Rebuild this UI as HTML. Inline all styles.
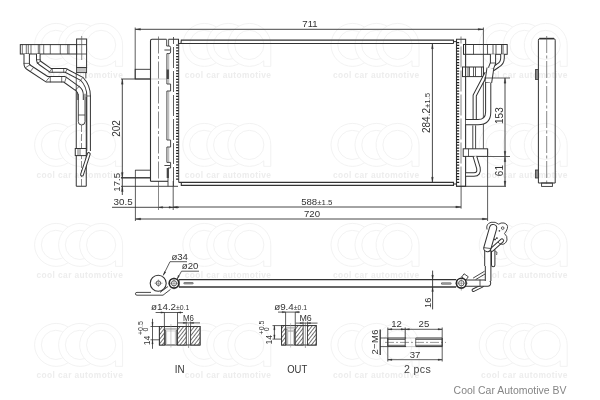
<!DOCTYPE html>
<html><head><meta charset="utf-8"><title>Condenser drawing</title>
<style>
html,body{margin:0;padding:0;background:#fff;}
svg{display:block;font-family:"Liberation Sans",sans-serif;opacity:0.999;will-change:transform;}
</style></head><body>
<svg width="600" height="400" viewBox="0 0 600 400">
<rect width="600" height="400" fill="#fff"/>
<g transform="translate(34.6,23.4)" fill="#fff" stroke="#f0f0f0" stroke-width="0.9">
<circle cx="21.5" cy="21.5" r="21.5"/>
<path d="M31.5,11.0 A14.6,14.6 0 1 0 31.5,32.0" fill="none"/>
<circle cx="45.5" cy="21.5" r="21.5"/>
<path d="M55.5,11.0 A14.6,14.6 0 1 0 55.5,32.0" fill="none"/>
<path d="M66.5,0 A21.5,21.5 0 1 0 81,37.4 V43 H88 V21.5 A21.5,21.5 0 0 0 66.5,0 Z"/>
<circle cx="66.5" cy="21.5" r="14.6"/>
</g>
<text x="123.19999999999999" y="77.8" font-size="8.4" font-weight="bold" text-anchor="end" fill="#ededed" letter-spacing="0.4">cool car automotive</text>
<g transform="translate(182.8,23.4)" fill="#fff" stroke="#f0f0f0" stroke-width="0.9">
<circle cx="21.5" cy="21.5" r="21.5"/>
<path d="M31.5,11.0 A14.6,14.6 0 1 0 31.5,32.0" fill="none"/>
<circle cx="45.5" cy="21.5" r="21.5"/>
<path d="M55.5,11.0 A14.6,14.6 0 1 0 55.5,32.0" fill="none"/>
<path d="M66.5,0 A21.5,21.5 0 1 0 81,37.4 V43 H88 V21.5 A21.5,21.5 0 0 0 66.5,0 Z"/>
<circle cx="66.5" cy="21.5" r="14.6"/>
</g>
<text x="271.4" y="77.8" font-size="8.4" font-weight="bold" text-anchor="end" fill="#ededed" letter-spacing="0.4">cool car automotive</text>
<g transform="translate(331.0,23.4)" fill="#fff" stroke="#f0f0f0" stroke-width="0.9">
<circle cx="21.5" cy="21.5" r="21.5"/>
<path d="M31.5,11.0 A14.6,14.6 0 1 0 31.5,32.0" fill="none"/>
<circle cx="45.5" cy="21.5" r="21.5"/>
<path d="M55.5,11.0 A14.6,14.6 0 1 0 55.5,32.0" fill="none"/>
<path d="M66.5,0 A21.5,21.5 0 1 0 81,37.4 V43 H88 V21.5 A21.5,21.5 0 0 0 66.5,0 Z"/>
<circle cx="66.5" cy="21.5" r="14.6"/>
</g>
<text x="419.6" y="77.8" font-size="8.4" font-weight="bold" text-anchor="end" fill="#ededed" letter-spacing="0.4">cool car automotive</text>
<g transform="translate(479.2,23.4)" fill="#fff" stroke="#f0f0f0" stroke-width="0.9">
<circle cx="21.5" cy="21.5" r="21.5"/>
<path d="M31.5,11.0 A14.6,14.6 0 1 0 31.5,32.0" fill="none"/>
<circle cx="45.5" cy="21.5" r="21.5"/>
<path d="M55.5,11.0 A14.6,14.6 0 1 0 55.5,32.0" fill="none"/>
<path d="M66.5,0 A21.5,21.5 0 1 0 81,37.4 V43 H88 V21.5 A21.5,21.5 0 0 0 66.5,0 Z"/>
<circle cx="66.5" cy="21.5" r="14.6"/>
</g>
<text x="567.8" y="77.8" font-size="8.4" font-weight="bold" text-anchor="end" fill="#ededed" letter-spacing="0.4">cool car automotive</text>
<g transform="translate(34.6,123.4)" fill="#fff" stroke="#f0f0f0" stroke-width="0.9">
<circle cx="21.5" cy="21.5" r="21.5"/>
<path d="M31.5,11.0 A14.6,14.6 0 1 0 31.5,32.0" fill="none"/>
<circle cx="45.5" cy="21.5" r="21.5"/>
<path d="M55.5,11.0 A14.6,14.6 0 1 0 55.5,32.0" fill="none"/>
<path d="M66.5,0 A21.5,21.5 0 1 0 81,37.4 V43 H88 V21.5 A21.5,21.5 0 0 0 66.5,0 Z"/>
<circle cx="66.5" cy="21.5" r="14.6"/>
</g>
<text x="123.19999999999999" y="177.8" font-size="8.4" font-weight="bold" text-anchor="end" fill="#ededed" letter-spacing="0.4">cool car automotive</text>
<g transform="translate(182.8,123.4)" fill="#fff" stroke="#f0f0f0" stroke-width="0.9">
<circle cx="21.5" cy="21.5" r="21.5"/>
<path d="M31.5,11.0 A14.6,14.6 0 1 0 31.5,32.0" fill="none"/>
<circle cx="45.5" cy="21.5" r="21.5"/>
<path d="M55.5,11.0 A14.6,14.6 0 1 0 55.5,32.0" fill="none"/>
<path d="M66.5,0 A21.5,21.5 0 1 0 81,37.4 V43 H88 V21.5 A21.5,21.5 0 0 0 66.5,0 Z"/>
<circle cx="66.5" cy="21.5" r="14.6"/>
</g>
<text x="271.4" y="177.8" font-size="8.4" font-weight="bold" text-anchor="end" fill="#ededed" letter-spacing="0.4">cool car automotive</text>
<g transform="translate(331.0,123.4)" fill="#fff" stroke="#f0f0f0" stroke-width="0.9">
<circle cx="21.5" cy="21.5" r="21.5"/>
<path d="M31.5,11.0 A14.6,14.6 0 1 0 31.5,32.0" fill="none"/>
<circle cx="45.5" cy="21.5" r="21.5"/>
<path d="M55.5,11.0 A14.6,14.6 0 1 0 55.5,32.0" fill="none"/>
<path d="M66.5,0 A21.5,21.5 0 1 0 81,37.4 V43 H88 V21.5 A21.5,21.5 0 0 0 66.5,0 Z"/>
<circle cx="66.5" cy="21.5" r="14.6"/>
</g>
<text x="419.6" y="177.8" font-size="8.4" font-weight="bold" text-anchor="end" fill="#ededed" letter-spacing="0.4">cool car automotive</text>
<g transform="translate(479.2,123.4)" fill="#fff" stroke="#f0f0f0" stroke-width="0.9">
<circle cx="21.5" cy="21.5" r="21.5"/>
<path d="M31.5,11.0 A14.6,14.6 0 1 0 31.5,32.0" fill="none"/>
<circle cx="45.5" cy="21.5" r="21.5"/>
<path d="M55.5,11.0 A14.6,14.6 0 1 0 55.5,32.0" fill="none"/>
<path d="M66.5,0 A21.5,21.5 0 1 0 81,37.4 V43 H88 V21.5 A21.5,21.5 0 0 0 66.5,0 Z"/>
<circle cx="66.5" cy="21.5" r="14.6"/>
</g>
<text x="567.8" y="177.8" font-size="8.4" font-weight="bold" text-anchor="end" fill="#ededed" letter-spacing="0.4">cool car automotive</text>
<g transform="translate(34.6,223.4)" fill="#fff" stroke="#f0f0f0" stroke-width="0.9">
<circle cx="21.5" cy="21.5" r="21.5"/>
<path d="M31.5,11.0 A14.6,14.6 0 1 0 31.5,32.0" fill="none"/>
<circle cx="45.5" cy="21.5" r="21.5"/>
<path d="M55.5,11.0 A14.6,14.6 0 1 0 55.5,32.0" fill="none"/>
<path d="M66.5,0 A21.5,21.5 0 1 0 81,37.4 V43 H88 V21.5 A21.5,21.5 0 0 0 66.5,0 Z"/>
<circle cx="66.5" cy="21.5" r="14.6"/>
</g>
<text x="123.19999999999999" y="277.8" font-size="8.4" font-weight="bold" text-anchor="end" fill="#ededed" letter-spacing="0.4">cool car automotive</text>
<g transform="translate(182.8,223.4)" fill="#fff" stroke="#f0f0f0" stroke-width="0.9">
<circle cx="21.5" cy="21.5" r="21.5"/>
<path d="M31.5,11.0 A14.6,14.6 0 1 0 31.5,32.0" fill="none"/>
<circle cx="45.5" cy="21.5" r="21.5"/>
<path d="M55.5,11.0 A14.6,14.6 0 1 0 55.5,32.0" fill="none"/>
<path d="M66.5,0 A21.5,21.5 0 1 0 81,37.4 V43 H88 V21.5 A21.5,21.5 0 0 0 66.5,0 Z"/>
<circle cx="66.5" cy="21.5" r="14.6"/>
</g>
<text x="271.4" y="277.8" font-size="8.4" font-weight="bold" text-anchor="end" fill="#ededed" letter-spacing="0.4">cool car automotive</text>
<g transform="translate(331.0,223.4)" fill="#fff" stroke="#f0f0f0" stroke-width="0.9">
<circle cx="21.5" cy="21.5" r="21.5"/>
<path d="M31.5,11.0 A14.6,14.6 0 1 0 31.5,32.0" fill="none"/>
<circle cx="45.5" cy="21.5" r="21.5"/>
<path d="M55.5,11.0 A14.6,14.6 0 1 0 55.5,32.0" fill="none"/>
<path d="M66.5,0 A21.5,21.5 0 1 0 81,37.4 V43 H88 V21.5 A21.5,21.5 0 0 0 66.5,0 Z"/>
<circle cx="66.5" cy="21.5" r="14.6"/>
</g>
<text x="419.6" y="277.8" font-size="8.4" font-weight="bold" text-anchor="end" fill="#ededed" letter-spacing="0.4">cool car automotive</text>
<g transform="translate(479.2,223.4)" fill="#fff" stroke="#f0f0f0" stroke-width="0.9">
<circle cx="21.5" cy="21.5" r="21.5"/>
<path d="M31.5,11.0 A14.6,14.6 0 1 0 31.5,32.0" fill="none"/>
<circle cx="45.5" cy="21.5" r="21.5"/>
<path d="M55.5,11.0 A14.6,14.6 0 1 0 55.5,32.0" fill="none"/>
<path d="M66.5,0 A21.5,21.5 0 1 0 81,37.4 V43 H88 V21.5 A21.5,21.5 0 0 0 66.5,0 Z"/>
<circle cx="66.5" cy="21.5" r="14.6"/>
</g>
<text x="567.8" y="277.8" font-size="8.4" font-weight="bold" text-anchor="end" fill="#ededed" letter-spacing="0.4">cool car automotive</text>
<g transform="translate(34.6,323.4)" fill="#fff" stroke="#f0f0f0" stroke-width="0.9">
<circle cx="21.5" cy="21.5" r="21.5"/>
<path d="M31.5,11.0 A14.6,14.6 0 1 0 31.5,32.0" fill="none"/>
<circle cx="45.5" cy="21.5" r="21.5"/>
<path d="M55.5,11.0 A14.6,14.6 0 1 0 55.5,32.0" fill="none"/>
<path d="M66.5,0 A21.5,21.5 0 1 0 81,37.4 V43 H88 V21.5 A21.5,21.5 0 0 0 66.5,0 Z"/>
<circle cx="66.5" cy="21.5" r="14.6"/>
</g>
<text x="123.19999999999999" y="377.79999999999995" font-size="8.4" font-weight="bold" text-anchor="end" fill="#ededed" letter-spacing="0.4">cool car automotive</text>
<g transform="translate(182.8,323.4)" fill="#fff" stroke="#f0f0f0" stroke-width="0.9">
<circle cx="21.5" cy="21.5" r="21.5"/>
<path d="M31.5,11.0 A14.6,14.6 0 1 0 31.5,32.0" fill="none"/>
<circle cx="45.5" cy="21.5" r="21.5"/>
<path d="M55.5,11.0 A14.6,14.6 0 1 0 55.5,32.0" fill="none"/>
<path d="M66.5,0 A21.5,21.5 0 1 0 81,37.4 V43 H88 V21.5 A21.5,21.5 0 0 0 66.5,0 Z"/>
<circle cx="66.5" cy="21.5" r="14.6"/>
</g>
<text x="271.4" y="377.79999999999995" font-size="8.4" font-weight="bold" text-anchor="end" fill="#ededed" letter-spacing="0.4">cool car automotive</text>
<g transform="translate(331.0,323.4)" fill="#fff" stroke="#f0f0f0" stroke-width="0.9">
<circle cx="21.5" cy="21.5" r="21.5"/>
<path d="M31.5,11.0 A14.6,14.6 0 1 0 31.5,32.0" fill="none"/>
<circle cx="45.5" cy="21.5" r="21.5"/>
<path d="M55.5,11.0 A14.6,14.6 0 1 0 55.5,32.0" fill="none"/>
<path d="M66.5,0 A21.5,21.5 0 1 0 81,37.4 V43 H88 V21.5 A21.5,21.5 0 0 0 66.5,0 Z"/>
<circle cx="66.5" cy="21.5" r="14.6"/>
</g>
<text x="419.6" y="377.79999999999995" font-size="8.4" font-weight="bold" text-anchor="end" fill="#ededed" letter-spacing="0.4">cool car automotive</text>
<g transform="translate(479.2,323.4)" fill="#fff" stroke="#f0f0f0" stroke-width="0.9">
<circle cx="21.5" cy="21.5" r="21.5"/>
<path d="M31.5,11.0 A14.6,14.6 0 1 0 31.5,32.0" fill="none"/>
<circle cx="45.5" cy="21.5" r="21.5"/>
<path d="M55.5,11.0 A14.6,14.6 0 1 0 55.5,32.0" fill="none"/>
<path d="M66.5,0 A21.5,21.5 0 1 0 81,37.4 V43 H88 V21.5 A21.5,21.5 0 0 0 66.5,0 Z"/>
<circle cx="66.5" cy="21.5" r="14.6"/>
</g>
<text x="567.8" y="377.79999999999995" font-size="8.4" font-weight="bold" text-anchor="end" fill="#ededed" letter-spacing="0.4">cool car automotive</text>
<rect x="20.3" y="44.6" width="56.3" height="9.4" fill="none" stroke="#333" stroke-width="1" />
<line x1="22.3" y1="44.6" x2="22.3" y2="54" stroke="#333" stroke-width="0.7" />
<line x1="26.3" y1="44.6" x2="26.3" y2="54" stroke="#333" stroke-width="0.7" />
<line x1="28.3" y1="44.6" x2="28.3" y2="54" stroke="#333" stroke-width="0.7" />
<line x1="31" y1="44.6" x2="31" y2="54" stroke="#333" stroke-width="0.7" />
<line x1="38.3" y1="44.6" x2="38.3" y2="54" stroke="#333" stroke-width="0.7" />
<line x1="39.7" y1="44.6" x2="39.7" y2="54" stroke="#333" stroke-width="0.7" />
<line x1="43.7" y1="44.6" x2="43.7" y2="54" stroke="#333" stroke-width="0.7" />
<line x1="50.3" y1="44.6" x2="50.3" y2="54" stroke="#333" stroke-width="0.7" />
<line x1="60.3" y1="44.6" x2="60.3" y2="54" stroke="#333" stroke-width="0.7" />
<line x1="67.7" y1="44.6" x2="67.7" y2="54" stroke="#333" stroke-width="0.7" />
<line x1="69" y1="44.6" x2="69" y2="54" stroke="#333" stroke-width="0.7" />
<rect x="76.6" y="39" width="10" height="28.6" fill="none" stroke="#333" stroke-width="1" />
<rect x="76.6" y="67.6" width="10" height="5" fill="#c4c4c4" stroke="#333" stroke-width="0.9" />
<path d="M26.7,54 V64 Q26.7,66 29,67.5 L47,79.3 H64.5 L78,89 Q80.6,91 80.6,95 V100" fill="none" stroke="#333" stroke-width="6.4" stroke-linejoin="round" stroke-linecap="butt"/>
<path d="M26.7,54 V64 Q26.7,66 29,67.5 L47,79.3 H64.5 L78,89 Q80.6,91 80.6,95 V100" fill="none" stroke="#fff" stroke-width="4.4" stroke-linejoin="round" stroke-linecap="butt"/>
<path d="M38.3,54 V60 Q38.3,62 40,63 L50.5,70.4 H65.5 L82,79 Q88.6,86 88.6,96 V151" fill="none" stroke="#333" stroke-width="4.6" stroke-linejoin="round" stroke-linecap="butt"/>
<path d="M38.3,54 V60 Q38.3,62 40,63 L50.5,70.4 H65.5 L82,79 Q88.6,86 88.6,96 V151" fill="none" stroke="#fff" stroke-width="2.5999999999999996" stroke-linejoin="round" stroke-linecap="butt"/>
<line x1="23.6" y1="63.4" x2="29.8" y2="63.4" stroke="#333" stroke-width="0.7" />
<line x1="25.6" y1="67.6" x2="30.6" y2="64.4" stroke="#333" stroke-width="0.7" />
<line x1="30.4" y1="71.4" x2="33.6" y2="67.4" stroke="#333" stroke-width="0.7" />
<line x1="46" y1="81.4" x2="50.3" y2="76.2" stroke="#333" stroke-width="0.7" />
<line x1="50.3" y1="76.2" x2="50.3" y2="82.4" stroke="#333" stroke-width="0.7" />
<line x1="61.7" y1="76.2" x2="61.7" y2="82.4" stroke="#333" stroke-width="0.7" />
<line x1="64.6" y1="82.4" x2="66.4" y2="77" stroke="#333" stroke-width="0.7" />
<line x1="75" y1="90.2" x2="79.8" y2="86" stroke="#333" stroke-width="0.7" />
<line x1="36.1" y1="59.7" x2="40.5" y2="59.7" stroke="#333" stroke-width="0.7" />
<line x1="36.8" y1="63.8" x2="41" y2="60.8" stroke="#333" stroke-width="0.7" />
<line x1="48.8" y1="73" x2="52.3" y2="68.2" stroke="#333" stroke-width="0.7" />
<line x1="52.3" y1="68.2" x2="52.3" y2="72.6" stroke="#333" stroke-width="0.7" />
<line x1="63.7" y1="68.2" x2="63.7" y2="72.6" stroke="#333" stroke-width="0.7" />
<line x1="65.4" y1="72.4" x2="67.4" y2="68.8" stroke="#333" stroke-width="0.7" />
<line x1="79.6" y1="81.6" x2="82.6" y2="77.6" stroke="#333" stroke-width="0.7" />
<line x1="86.4" y1="96" x2="90.8" y2="96" stroke="#333" stroke-width="0.7" />
<line x1="76.6" y1="44.6" x2="86.6" y2="44.6" stroke="#333" stroke-width="0.8" />
<line x1="76.6" y1="54" x2="86.6" y2="54" stroke="#333" stroke-width="0.8" />
<polyline points="76.25,92 76.25,186.25 86.25,186.25 86.25,97" fill="none" stroke="#333" stroke-width="1" />
<path d="M78.3,93.75 V121.6 Q78.3,125 81.6,125 Q85,125 85,121.6 V93.75" fill="none" stroke="#333" stroke-width="0.9"/>
<line x1="78.3" y1="115" x2="85" y2="115" stroke="#333" stroke-width="0.8" />
<line x1="81.5" y1="125" x2="81.5" y2="186" stroke="#555" stroke-width="0.7" stroke-dasharray="7 2"/>
<line x1="81.7" y1="36" x2="81.7" y2="60" stroke="#555" stroke-width="0.7" />
<rect x="75.25" y="148.5" width="11" height="7.1" fill="#fff" stroke="#333" stroke-width="1" />
<line x1="78" y1="148.5" x2="78" y2="155.6" stroke="#333" stroke-width="0.7" />
<line x1="80" y1="148.5" x2="80" y2="155.6" stroke="#333" stroke-width="0.7" />
<path d="M88.8,154 L82,174.6" fill="none" stroke="#333" stroke-width="3.8" stroke-linejoin="round" stroke-linecap="round"/>
<path d="M88.8,154 L82,174.6" fill="none" stroke="#fff" stroke-width="1.7999999999999998" stroke-linejoin="round" stroke-linecap="round"/>
<line x1="76.25" y1="72.6" x2="76.25" y2="92" stroke="#333" stroke-width="0.8" />
<line x1="85.8" y1="72.6" x2="85.8" y2="78.5" stroke="#333" stroke-width="0.8" />
<line x1="135.2" y1="27.5" x2="135.2" y2="79" stroke="#333" stroke-width="0.8" />
<line x1="483.4" y1="27.5" x2="483.4" y2="150" stroke="#333" stroke-width="0.8" />
<line x1="135.2" y1="29.3" x2="483.4" y2="29.3" stroke="#333" stroke-width="0.9" />
<polygon points="135.5,29.3 140.5,28.400000000000002 140.5,30.2" fill="#333" stroke="#333" stroke-width="0.3"/>
<polygon points="483.1,29.3 478.1,28.400000000000002 478.1,30.2" fill="#333" stroke="#333" stroke-width="0.3"/>
<text x="310" y="26.8" font-size="9.6" text-anchor="middle" fill="#333" >711</text>
<rect x="135.2" y="69.3" width="15.3" height="9.7" fill="none" stroke="#333" stroke-width="0.9" />
<line x1="135.2" y1="170.2" x2="150.5" y2="170.2" stroke="#333" stroke-width="0.9" />
<line x1="121" y1="79" x2="150.5" y2="79" stroke="#333" stroke-width="0.9" />
<line x1="150.5" y1="79" x2="166" y2="79" stroke="#999" stroke-width="0.5" />
<line x1="121" y1="177.8" x2="150.5" y2="177.8" stroke="#333" stroke-width="1.4" />
<line x1="121" y1="186.3" x2="178" y2="186.3" stroke="#333" stroke-width="0.9" />
<line x1="122.3" y1="79" x2="122.3" y2="195" stroke="#333" stroke-width="0.9" />
<polygon points="122.3,79.2 121.39999999999999,84.2 123.2,84.2" fill="#333" stroke="#333" stroke-width="0.3"/>
<polygon points="122.3,177.4 121.39999999999999,172.4 123.2,172.4" fill="#333" stroke="#333" stroke-width="0.3"/>
<polygon points="122.3,186.5 121.39999999999999,191.5 123.2,191.5" fill="#333" stroke="#333" stroke-width="0.3"/>
<text x="120.4" y="128.5" font-size="10" text-anchor="middle" fill="#333" transform="rotate(-90 120.4 128.5)" >202</text>
<text x="120.5" y="182.3" font-size="9.6" text-anchor="middle" fill="#333" transform="rotate(-90 120.5 182.3)" >17.5</text>
<line x1="112" y1="207.3" x2="179" y2="207.3" stroke="#333" stroke-width="0.9" />
<polygon points="158.7,207.3 162.7,206.4 162.7,208.20000000000002" fill="#333" stroke="#333" stroke-width="0.3"/>
<polygon points="173,207.3 169,206.4 169,208.20000000000002" fill="#333" stroke="#333" stroke-width="0.3"/>
<polygon points="173.4,207.3 177.4,206.4 177.4,208.20000000000002" fill="#333" stroke="#333" stroke-width="0.3"/>
<text x="123.1" y="204.6" font-size="9.8" text-anchor="middle" fill="#333" >30.5</text>
<line x1="173.2" y1="207" x2="461" y2="207" stroke="#333" stroke-width="0.9" />
<polygon points="460.8,207 455.8,206.1 455.8,207.9" fill="#333" stroke="#333" stroke-width="0.3"/>
<text x="301.2" y="204.8" font-size="9.6" fill="#333">588<tspan font-size="7.9">±1.5</tspan></text>
<line x1="135.4" y1="170" x2="135.4" y2="221" stroke="#333" stroke-width="0.8" />
<line x1="487.6" y1="149" x2="487.6" y2="221" stroke="#333" stroke-width="0.8" />
<line x1="135.4" y1="219" x2="487.6" y2="219" stroke="#333" stroke-width="0.9" />
<polygon points="135.7,219 140.7,218.1 140.7,219.9" fill="#333" stroke="#333" stroke-width="0.3"/>
<polygon points="487.3,219 482.3,218.1 482.3,219.9" fill="#333" stroke="#333" stroke-width="0.3"/>
<text x="312" y="216.6" font-size="9.6" text-anchor="middle" fill="#333" >720</text>
<line x1="158.5" y1="181" x2="158.5" y2="210" stroke="#555" stroke-width="0.7" />
<line x1="173.2" y1="181" x2="173.2" y2="210" stroke="#333" stroke-width="0.8" />
<line x1="461.1" y1="186" x2="461.1" y2="208.6" stroke="#333" stroke-width="0.8" />
<path d="M150.5,181.3 V40.8 Q150.5,39.3 152,39.3 H166.5 M168.5,39.3 H178.5 V44" fill="none" stroke="#333" stroke-width="1.1"/>
<line x1="150.5" y1="181.3" x2="168" y2="181.3" stroke="#333" stroke-width="1.1" />
<line x1="158.5" y1="36.5" x2="158.5" y2="181" stroke="#555" stroke-width="0.7" stroke-dasharray="17 2.5 3 2.5"/>
<line x1="173.5" y1="37" x2="173.5" y2="186" stroke="#333" stroke-width="0.8" stroke-dasharray="21 3" stroke-dashoffset="14"/>
<path d="M166.7,39.3 V46 H169 Q170.6,46 170.6,47.6 V52 Q170.6,53.6 169,53.6 H166.9 V84 H170.6 V91 H166.9 V140 H170.6 V147 H166.9 V162.4 H170.6 V168 H168 V186.3" fill="none" stroke="#333" stroke-width="0.9"/>
<line x1="168.6" y1="39.3" x2="168.6" y2="46" stroke="#333" stroke-width="0.8" />
<line x1="168.7" y1="53.6" x2="168.7" y2="84" stroke="#777" stroke-width="0.6" />
<line x1="168.7" y1="91" x2="168.7" y2="140" stroke="#777" stroke-width="0.6" />
<line x1="168.7" y1="147" x2="168.7" y2="162.4" stroke="#777" stroke-width="0.6" />
<line x1="164.4" y1="50" x2="170" y2="50" stroke="#333" stroke-width="0.9" />
<line x1="164.4" y1="165.5" x2="170" y2="165.5" stroke="#333" stroke-width="0.9" />
<line x1="167.8" y1="69.5" x2="167.8" y2="79" stroke="#444" stroke-width="2.2" />
<line x1="167.8" y1="168" x2="167.8" y2="178" stroke="#444" stroke-width="2.2" />
<line x1="177.4" y1="44.5" x2="177.4" y2="180.5" stroke="#222" stroke-width="2.6" stroke-dasharray="1.25 1.6"/>
<line x1="178.7" y1="44" x2="178.7" y2="182.4" stroke="#333" stroke-width="0.9" />
<polyline points="178.7,43.5 181,43.5 181.3,40.1 453.5,40.1 453.5,43.4" fill="none" stroke="#333" stroke-width="1.1" />
<line x1="181" y1="43.5" x2="453.5" y2="43.5" stroke="#333" stroke-width="1.1" />
<polyline points="178.7,182.4 181.3,182.4 181.3,185.4 453.5,185.4 453.5,182.4 181.3,182.4" fill="none" stroke="#333" stroke-width="1.1" />
<path d="M456.5,186.3 V39.3 H465.6 V186.3 Z" fill="none" stroke="#333" stroke-width="1.1"/>
<line x1="453.5" y1="41.6" x2="456.5" y2="41.6" stroke="#333" stroke-width="1" />
<line x1="453.5" y1="184" x2="456.5" y2="184" stroke="#333" stroke-width="1" />
<line x1="458" y1="42" x2="458" y2="184" stroke="#222" stroke-width="2.4" stroke-dasharray="1.25 1.6"/>
<line x1="461" y1="36.5" x2="461" y2="186" stroke="#555" stroke-width="0.7" stroke-dasharray="21 3" stroke-dashoffset="14"/>
<line x1="456" y1="186.3" x2="506" y2="186.3" stroke="#333" stroke-width="0.9" />
<line x1="432.4" y1="43.6" x2="432.4" y2="182.3" stroke="#333" stroke-width="0.9" />
<polygon points="432.4,43.7 431.5,48.7 433.29999999999995,48.7" fill="#333" stroke="#333" stroke-width="0.3"/>
<polygon points="432.4,182.2 431.5,177.2 433.29999999999995,177.2" fill="#333" stroke="#333" stroke-width="0.3"/>
<text x="430.4" y="133" font-size="10" fill="#333" transform="rotate(-90 430.4 133)">284.2<tspan font-size="7.8">±1.5</tspan></text>
<rect x="463.5" y="44.5" width="43.7" height="9.8" fill="none" stroke="#333" stroke-width="1" />
<line x1="473.5" y1="44.5" x2="473.5" y2="54.3" stroke="#333" stroke-width="0.8" />
<line x1="487.5" y1="44.5" x2="487.5" y2="54.3" stroke="#333" stroke-width="0.8" />
<line x1="493" y1="44.5" x2="493" y2="54.3" stroke="#333" stroke-width="0.8" />
<line x1="496" y1="44.5" x2="496" y2="54.3" stroke="#333" stroke-width="0.8" />
<line x1="501.5" y1="44.5" x2="501.5" y2="54.3" stroke="#333" stroke-width="0.8" />
<line x1="503" y1="44.5" x2="503" y2="54.3" stroke="#333" stroke-width="0.8" />
<rect x="462.5" y="67" width="21" height="9.6" fill="none" stroke="#333" stroke-width="1" />
<line x1="468" y1="67" x2="468" y2="76.6" stroke="#333" stroke-width="0.8" />
<line x1="469.5" y1="67" x2="469.5" y2="76.6" stroke="#333" stroke-width="0.8" />
<line x1="473.5" y1="67" x2="473.5" y2="76.6" stroke="#333" stroke-width="0.8" />
<line x1="475.5" y1="67" x2="475.5" y2="76.6" stroke="#333" stroke-width="0.8" />
<line x1="481.5" y1="67" x2="481.5" y2="76.6" stroke="#333" stroke-width="0.8" />
<rect x="463.2" y="148.8" width="24.4" height="7.6" fill="#fff" stroke="#333" stroke-width="1" />
<line x1="468.5" y1="148.8" x2="468.5" y2="156.4" stroke="#333" stroke-width="0.8" />
<path d="M502.5,54.3 V58 Q502.5,63 498,65.5 L493,69" fill="none" stroke="#333" stroke-width="4.6" stroke-linejoin="round" stroke-linecap="butt"/>
<path d="M502.5,54.3 V58 Q502.5,63 498,65.5 L493,69" fill="none" stroke="#fff" stroke-width="2.5999999999999996" stroke-linejoin="round" stroke-linecap="butt"/>
<path d="M493,54.3 V63 L489.5,72 L488.2,82 V112 Q488.2,122.2 478,122.2 H465.8" fill="none" stroke="#333" stroke-width="6.2" stroke-linejoin="round" stroke-linecap="butt"/>
<path d="M493,54.3 V63 L489.5,72 L488.2,82 V112 Q488.2,122.2 478,122.2 H465.8" fill="none" stroke="#fff" stroke-width="4.2" stroke-linejoin="round" stroke-linecap="butt"/>
<line x1="490" y1="63" x2="496" y2="63" stroke="#333" stroke-width="0.8" />
<line x1="485.2" y1="82.5" x2="491.2" y2="82.5" stroke="#333" stroke-width="0.8" />
<path d="M486.5,73 L474.7,95.5 V119" fill="none" stroke="#333" stroke-width="4.2" stroke-linejoin="round" stroke-linecap="butt"/>
<path d="M486.5,73 L474.7,95.5 V119" fill="none" stroke="#fff" stroke-width="2.2" stroke-linejoin="round" stroke-linecap="butt"/>
<line x1="472.8" y1="125.4" x2="472.8" y2="148.8" stroke="#333" stroke-width="0.9" />
<line x1="475.6" y1="125.4" x2="475.6" y2="148.8" stroke="#333" stroke-width="0.9" />
<path d="M490.4,68 L488.3,82.4" fill="none" stroke="#333" stroke-width="7.8" stroke-linejoin="round" stroke-linecap="butt"/>
<path d="M490.4,68 L488.3,82.4" fill="none" stroke="#fff" stroke-width="5.8" stroke-linejoin="round" stroke-linecap="butt"/>
<path d="M474.9,156.4 L478.4,168 Q479.6,174.5 474,174.5 H466" fill="none" stroke="#333" stroke-width="4.6" stroke-linejoin="round" stroke-linecap="butt"/>
<path d="M474.9,156.4 L478.4,168 Q479.6,174.5 474,174.5 H466" fill="none" stroke="#fff" stroke-width="2.5999999999999996" stroke-linejoin="round" stroke-linecap="butt"/>
<line x1="484" y1="78" x2="510" y2="78" stroke="#333" stroke-width="0.8" />
<line x1="488" y1="156.5" x2="510" y2="156.5" stroke="#333" stroke-width="0.8" />
<line x1="505" y1="78" x2="505" y2="186.3" stroke="#333" stroke-width="0.9" />
<polygon points="505,78.2 504.1,83.2 505.9,83.2" fill="#333" stroke="#333" stroke-width="0.3"/>
<polygon points="505,156.3 504.1,151.3 505.9,151.3" fill="#333" stroke="#333" stroke-width="0.3"/>
<polygon points="505,156.7 504.1,161.7 505.9,161.7" fill="#333" stroke="#333" stroke-width="0.3"/>
<polygon points="505,186.1 504.1,181.1 505.9,181.1" fill="#333" stroke="#333" stroke-width="0.3"/>
<text x="502.6" y="115.6" font-size="10" text-anchor="middle" fill="#333" transform="rotate(-90 502.6 115.6)" >153</text>
<text x="502.6" y="170.6" font-size="10" text-anchor="middle" fill="#333" transform="rotate(-90 502.6 170.6)" >61</text>
<path d="M538.4,183 V40.2 Q538.4,38.6 540,38.6 H553.6 Q555.2,38.6 555.2,40.2 V183 Z" fill="none" stroke="#333" stroke-width="1"/>
<line x1="539.5" y1="38.6" x2="554" y2="38.6" stroke="#333" stroke-width="1.6" />
<line x1="546.7" y1="36" x2="546.7" y2="186" stroke="#555" stroke-width="0.7" stroke-dasharray="17 2.5 3 2.5"/>
<rect x="535.6" y="69.6" width="2.8" height="9.8" fill="#888" stroke="#333" stroke-width="0.8" />
<rect x="535.6" y="170" width="2.8" height="8" fill="#888" stroke="#333" stroke-width="0.8" />
<rect x="541.6" y="183" width="10.8" height="3.4" fill="none" stroke="#333" stroke-width="0.9" />
<polyline points="179,279.6 456,279.6" fill="none" stroke="#333" stroke-width="1.4" />
<polyline points="179,287 456,287" fill="none" stroke="#333" stroke-width="1.4" />
<line x1="179" y1="279.4" x2="179" y2="287.2" stroke="#333" stroke-width="1" />
<line x1="457" y1="279.4" x2="457" y2="287.2" stroke="#333" stroke-width="1" />
<line x1="184.5" y1="283.3" x2="192.5" y2="283.3" stroke="#444" stroke-width="2" stroke-linecap="round"/>
<line x1="184.5" y1="283.3" x2="192.5" y2="283.3" stroke="#ddd" stroke-width="0.6" stroke-linecap="round"/>
<line x1="442" y1="283.4" x2="450.5" y2="283.4" stroke="#444" stroke-width="2" stroke-linecap="round"/>
<line x1="442" y1="283.4" x2="450.5" y2="283.4" stroke="#ddd" stroke-width="0.6" stroke-linecap="round"/>
<path d="M163,295.2 H137 Q135.4,295.2 135.4,293.8 Q135.4,292.4 137,292.4 H151 M163,295.2 L170.5,289.4 M160,292.4 L168,286.5" fill="none" stroke="#333" stroke-width="0.9"/>
<circle cx="158.2" cy="283.2" r="8" fill="#fff" stroke="#333" stroke-width="1.1"/>
<circle cx="158.4" cy="283.2" r="2.3" fill="none" stroke="#333" stroke-width="0.8"/>
<line x1="154.5" y1="283.2" x2="162.5" y2="283.2" stroke="#555" stroke-width="0.5" />
<line x1="158.4" y1="279.5" x2="158.4" y2="287" stroke="#555" stroke-width="0.5" />
<circle cx="174" cy="283.3" r="4.8" fill="#fff" stroke="#222" stroke-width="1.6"/>
<circle cx="174" cy="283.3" r="2.6" fill="none" stroke="#333" stroke-width="0.8"/>
<line x1="168" y1="283.3" x2="180" y2="283.3" stroke="#555" stroke-width="0.5" />
<line x1="174" y1="277.5" x2="174" y2="289.5" stroke="#555" stroke-width="0.5" />
<polyline points="187,261.7 170,261.7 163.2,275.4" fill="none" stroke="#333" stroke-width="0.8" />
<polygon points="163.2,275.6 164.3,271.2 166,272.2" fill="#333"/>
<text x="171.4" y="259.6" font-size="9.6" text-anchor="start" fill="#333" >ø34</text>
<polyline points="199,271.2 181.5,271.2 177.2,279" fill="none" stroke="#333" stroke-width="0.8" />
<polygon points="177.2,279 178,275 179.6,275.9" fill="#333"/>
<text x="181.8" y="269.3" font-size="9.6" text-anchor="start" fill="#333" >ø20</text>
<line x1="432.6" y1="270.6" x2="432.6" y2="309.4" stroke="#333" stroke-width="0.9" />
<polygon points="432.6,279.2 431.70000000000005,275.2 433.5,275.2" fill="#333" stroke="#333" stroke-width="0.3"/>
<polygon points="432.6,287.4 431.70000000000005,291.4 433.5,291.4" fill="#333" stroke="#333" stroke-width="0.3"/>
<text x="430.6" y="302.8" font-size="9.2" text-anchor="middle" fill="#333" transform="rotate(-90 430.6 302.8)" >16</text>
<rect x="462.4" y="274.9" width="5.2" height="4" fill="#fff" stroke="#333" stroke-width="0.8" transform="rotate(35 465 276.9)"/>
<polyline points="473.1,278.1 484.6,271.2" fill="none" stroke="#333" stroke-width="0.9" />
<polyline points="475.6,279.6 485.6,273.7" fill="none" stroke="#333" stroke-width="0.9" />
<path d="M473.4,290.2 L482,286" fill="none" stroke="#333" stroke-width="3.6" stroke-linejoin="round" stroke-linecap="round"/>
<path d="M473.4,290.2 L482,286" fill="none" stroke="#fff" stroke-width="1.6" stroke-linejoin="round" stroke-linecap="round"/>
<path d="M466,283.1 H487.6" fill="none" stroke="#333" stroke-width="7.2" stroke-linejoin="round" stroke-linecap="round"/>
<path d="M466,283.1 H487.6" fill="none" stroke="#fff" stroke-width="5.2" stroke-linejoin="round" stroke-linecap="round"/>
<line x1="480" y1="279.6" x2="480" y2="286.6" stroke="#333" stroke-width="0.8" />
<path d="M493.2,250 V265" fill="none" stroke="#333" stroke-width="4.4" stroke-linejoin="round" stroke-linecap="round"/>
<path d="M493.2,250 V265" fill="none" stroke="#fff" stroke-width="2.4000000000000004" stroke-linejoin="round" stroke-linecap="round"/>
<line x1="495.4" y1="251.5" x2="497" y2="252.2" stroke="#333" stroke-width="0.8" />
<line x1="497" y1="252.2" x2="496.6" y2="255" stroke="#333" stroke-width="0.8" />
<path d="M488.1,281 V266" fill="none" stroke="#333" stroke-width="6.6" stroke-linejoin="round" stroke-linecap="butt"/>
<path d="M488.1,281 V266" fill="none" stroke="#fff" stroke-width="4.6" stroke-linejoin="round" stroke-linecap="butt"/>
<path d="M487.8,266 V247.5" fill="none" stroke="#333" stroke-width="7.2" stroke-linejoin="round" stroke-linecap="butt"/>
<path d="M487.8,266 V247.5" fill="none" stroke="#fff" stroke-width="5.2" stroke-linejoin="round" stroke-linecap="butt"/>
<path d="M491.9,249.6 L501.9,240.6" fill="none" stroke="#333" stroke-width="4.4" stroke-linejoin="round" stroke-linecap="round"/>
<path d="M491.9,249.6 L501.9,240.6" fill="none" stroke="#fff" stroke-width="2.4000000000000004" stroke-linejoin="round" stroke-linecap="round"/>
<path d="M487.4,248 L493.1,228.1" fill="none" stroke="#333" stroke-width="8.2" stroke-linejoin="round" stroke-linecap="round"/>
<path d="M487.4,248 L493.1,228.1" fill="none" stroke="#fff" stroke-width="6.199999999999999" stroke-linejoin="round" stroke-linecap="round"/>
<line x1="483.6" y1="247.6" x2="491.2" y2="248.6" stroke="#333" stroke-width="0.8" />
<circle cx="461.3" cy="283.2" r="4.9" fill="#fff" stroke="#222" stroke-width="1.6"/>
<circle cx="461.3" cy="283.2" r="2.7" fill="none" stroke="#333" stroke-width="0.8"/>
<line x1="455" y1="283.2" x2="468" y2="283.2" stroke="#555" stroke-width="0.5" />
<line x1="461.3" y1="276.5" x2="461.3" y2="290.5" stroke="#555" stroke-width="0.5" />
<path d="M487,229.5 Q485.6,224 491,222.3 Q495.6,221.4 498.6,224.2 Q501,222.4 504,223 Q508.4,224.4 507.4,228.4 Q506.6,231 504.5,233.6 Q507.6,236 507,240 Q505.6,244.6 501.6,244.3 Q499,244 498,242" fill="none" stroke="#333" stroke-width="0.9"/>
<circle cx="502.7" cy="228.1" r="1.3" fill="none" stroke="#333" stroke-width="0.8"/>
<circle cx="499.4" cy="230.9" r="0.8" fill="#444"/>
<circle cx="495" cy="239.4" r="0.9" fill="#222"/><circle cx="496.9" cy="238.1" r="0.9" fill="#222"/>
<defs><pattern id="h" width="2.8" height="2.8" patternUnits="userSpaceOnUse" patternTransform="rotate(-52)"><rect width="2.8" height="2.8" fill="#fff"/><line x1="0" y1="1.4" x2="2.8" y2="1.4" stroke="#444" stroke-width="0.75"/></pattern></defs>
<rect x="159.4" y="326.5" width="40.6" height="18.5" fill="none" stroke="#333" stroke-width="1" />
<rect x="159.4" y="326.5" width="5" height="18.5" fill="url(#h)" stroke="#333" stroke-width="0.9"/>
<rect x="177.5" y="326.5" width="8.75" height="18.5" fill="url(#h)" stroke="#333" stroke-width="0.9"/>
<rect x="190.6" y="326.5" width="9.4" height="18.5" fill="url(#h)" stroke="#333" stroke-width="0.9"/>
<line x1="188.5" y1="323.5" x2="188.5" y2="348" stroke="#555" stroke-width="0.5" />
<polyline points="164.4,330 165.6,330 165.6,345" fill="none" stroke="#333" stroke-width="0.8" />
<polyline points="177.5,330 176.3,330 176.3,345" fill="none" stroke="#333" stroke-width="0.8" />
<line x1="164.6" y1="328.4" x2="177.3" y2="328.4" stroke="#999" stroke-width="0.7" />
<line x1="165" y1="329.6" x2="177" y2="329.6" stroke="#aaa" stroke-width="0.7" />
<line x1="165.6" y1="331" x2="176.3" y2="331" stroke="#bbb" stroke-width="0.6" />
<line x1="166.6" y1="331" x2="166.6" y2="345" stroke="#bbb" stroke-width="0.7" />
<line x1="175.3" y1="331" x2="175.3" y2="345" stroke="#bbb" stroke-width="0.7" />
<line x1="170.9" y1="324" x2="170.9" y2="347.5" stroke="#999" stroke-width="0.5" />
<line x1="164.4" y1="312.5" x2="164.4" y2="326.5" stroke="#333" stroke-width="0.8" />
<line x1="177.5" y1="312.5" x2="177.5" y2="326.5" stroke="#333" stroke-width="0.8" />
<line x1="155.6" y1="312.5" x2="183" y2="312.5" stroke="#333" stroke-width="0.8" />
<polygon points="164.4,312.5 160.9,311.8 160.9,313.2" fill="#333" stroke="#333" stroke-width="0.3"/>
<polygon points="177.5,312.5 181.0,311.8 181.0,313.2" fill="#333" stroke="#333" stroke-width="0.3"/>
<text x="151" y="310.3" font-size="9.8" fill="#333">ø14.2<tspan font-size="6.9">±0.1</tspan></text>
<text x="183" y="320.7" font-size="8.6" text-anchor="start" fill="#333" textLength="10.9" lengthAdjust="spacingAndGlyphs">M6</text>
<line x1="178" y1="322.9" x2="200" y2="322.9" stroke="#333" stroke-width="0.8" />
<polygon points="186.25,322.9 183.25,322.29999999999995 183.25,323.5" fill="#333" stroke="#333" stroke-width="0.3"/>
<polygon points="190.6,322.9 193.6,322.29999999999995 193.6,323.5" fill="#333" stroke="#333" stroke-width="0.3"/>
<line x1="186.25" y1="321.5" x2="186.25" y2="326.5" stroke="#333" stroke-width="0.7" />
<line x1="190.6" y1="321.5" x2="190.6" y2="326.5" stroke="#333" stroke-width="0.7" />
<line x1="152.5" y1="318.8" x2="152.5" y2="348.8" stroke="#333" stroke-width="0.8" />
<line x1="150.5" y1="326.5" x2="159.4" y2="326.5" stroke="#333" stroke-width="0.8" />
<line x1="150.5" y1="339.8" x2="159.4" y2="339.8" stroke="#333" stroke-width="0.8" />
<polygon points="152.5,326.3 151.8,322.3 153.2,322.3" fill="#333" stroke="#333" stroke-width="0.3"/>
<polygon points="152.5,340 151.8,344 153.2,344" fill="#333" stroke="#333" stroke-width="0.3"/>
<text x="149.8" y="345.2" font-size="8.6" text-anchor="start" fill="#333" transform="rotate(-90 149.8 345.2)" >14</text>
<text x="142.8" y="335" font-size="7" text-anchor="start" fill="#333" transform="rotate(-90 142.8 335)" >+0.5</text>
<text x="147.6" y="331.4" font-size="7" text-anchor="start" fill="#333" transform="rotate(-90 147.6 331.4)" >0</text>
<text x="174.7" y="373" font-size="11" text-anchor="start" fill="#333" textLength="9.8" lengthAdjust="spacingAndGlyphs">IN</text>
<rect x="281.6" y="325.6" width="34.6" height="19.4" fill="none" stroke="#333" stroke-width="1" />
<rect x="281.6" y="325.6" width="4" height="19.4" fill="url(#h)" stroke="#333" stroke-width="0.9"/>
<rect x="295.25" y="325.6" width="7.85" height="19.4" fill="url(#h)" stroke="#333" stroke-width="0.9"/>
<rect x="307.5" y="325.6" width="8.7" height="19.4" fill="url(#h)" stroke="#333" stroke-width="0.9"/>
<line x1="305.4" y1="322.5" x2="305.4" y2="348" stroke="#555" stroke-width="0.5" />
<polyline points="285.6,329 286.9,329 286.9,345" fill="none" stroke="#333" stroke-width="0.8" />
<polyline points="295.25,329 294.4,329 294.4,345" fill="none" stroke="#333" stroke-width="0.8" />
<line x1="285.8" y1="327.6" x2="295" y2="327.6" stroke="#999" stroke-width="0.7" />
<line x1="286.4" y1="328.8" x2="294.6" y2="328.8" stroke="#aaa" stroke-width="0.7" />
<line x1="287.8" y1="330" x2="287.8" y2="345" stroke="#bbb" stroke-width="0.7" />
<line x1="293.5" y1="330" x2="293.5" y2="345" stroke="#bbb" stroke-width="0.7" />
<line x1="288" y1="331" x2="293.4" y2="331" stroke="#777" stroke-width="0.8" />
<line x1="290.6" y1="323" x2="290.6" y2="347.5" stroke="#999" stroke-width="0.5" />
<line x1="285.6" y1="312.1" x2="285.6" y2="325.6" stroke="#333" stroke-width="0.8" />
<line x1="295.25" y1="312.1" x2="295.25" y2="325.6" stroke="#333" stroke-width="0.8" />
<line x1="278" y1="312.1" x2="300" y2="312.1" stroke="#333" stroke-width="0.8" />
<polygon points="285.6,312.1 282.1,311.40000000000003 282.1,312.8" fill="#333" stroke="#333" stroke-width="0.3"/>
<polygon points="295.25,312.1 298.75,311.40000000000003 298.75,312.8" fill="#333" stroke="#333" stroke-width="0.3"/>
<text x="274.2" y="309.9" font-size="9.8" fill="#333">ø9.4<tspan font-size="6.9">±0.1</tspan></text>
<text x="299.4" y="320.7" font-size="8.6" text-anchor="start" fill="#333" textLength="12.3" lengthAdjust="spacingAndGlyphs">M6</text>
<line x1="295.6" y1="323.1" x2="317.5" y2="323.1" stroke="#333" stroke-width="0.8" />
<polygon points="303.1,323.1 300.1,322.5 300.1,323.70000000000005" fill="#333" stroke="#333" stroke-width="0.3"/>
<polygon points="307.5,323.1 310.5,322.5 310.5,323.70000000000005" fill="#333" stroke="#333" stroke-width="0.3"/>
<line x1="303.1" y1="321.5" x2="303.1" y2="325.6" stroke="#333" stroke-width="0.7" />
<line x1="307.5" y1="321.5" x2="307.5" y2="325.6" stroke="#333" stroke-width="0.7" />
<line x1="274.4" y1="325.6" x2="274.4" y2="339.1" stroke="#333" stroke-width="0.8" />
<line x1="272.5" y1="325.6" x2="281.6" y2="325.6" stroke="#333" stroke-width="0.8" />
<line x1="272.5" y1="339.1" x2="281.6" y2="339.1" stroke="#333" stroke-width="0.8" />
<polygon points="274.4,325.8 273.7,329.8 275.09999999999997,329.8" fill="#333" stroke="#333" stroke-width="0.3"/>
<polygon points="274.4,338.9 273.7,334.9 275.09999999999997,334.9" fill="#333" stroke="#333" stroke-width="0.3"/>
<text x="271.9" y="344.6" font-size="8.6" text-anchor="start" fill="#333" transform="rotate(-90 271.9 344.6)" >14</text>
<text x="264.4" y="334.4" font-size="7" text-anchor="start" fill="#333" transform="rotate(-90 264.4 334.4)" >+0.5</text>
<text x="268.8" y="331.2" font-size="7" text-anchor="start" fill="#333" transform="rotate(-90 268.8 331.2)" >0</text>
<text x="287.2" y="373" font-size="11" text-anchor="start" fill="#333" textLength="20" lengthAdjust="spacingAndGlyphs">OUT</text>
<polyline points="406.2,338 387.8,338 387.8,346.6 406.2,346.6" fill="none" stroke="#333" stroke-width="1" />
<polyline points="415.7,338 442.2,338 442.2,346.6 415.7,346.6" fill="none" stroke="#333" stroke-width="1" />
<line x1="406.2" y1="338" x2="415.7" y2="338" stroke="#aaa" stroke-width="0.6" />
<line x1="406.2" y1="346.6" x2="415.7" y2="346.6" stroke="#aaa" stroke-width="0.6" />
<line x1="387.8" y1="339.4" x2="405.2" y2="339.4" stroke="#333" stroke-width="0.8" />
<line x1="387.8" y1="345.3" x2="405.2" y2="345.3" stroke="#333" stroke-width="0.8" />
<line x1="415.7" y1="339.4" x2="442.2" y2="339.4" stroke="#333" stroke-width="0.8" />
<line x1="415.7" y1="345.3" x2="442.2" y2="345.3" stroke="#333" stroke-width="0.8" />
<line x1="415.7" y1="338" x2="415.7" y2="346.6" stroke="#333" stroke-width="0.7" />
<line x1="385" y1="342.4" x2="446" y2="342.4" stroke="#555" stroke-width="0.6" stroke-dasharray="9 2 2 2"/>
<line x1="387.8" y1="327.5" x2="387.8" y2="361.5" stroke="#333" stroke-width="0.8" />
<line x1="442.2" y1="327.5" x2="442.2" y2="361.5" stroke="#333" stroke-width="0.8" />
<line x1="405.2" y1="327.5" x2="405.2" y2="346.6" stroke="#333" stroke-width="0.9" />
<line x1="387.8" y1="329.3" x2="442.2" y2="329.3" stroke="#333" stroke-width="0.8" />
<polygon points="388,329.3 392,328.6 392,330.0" fill="#333" stroke="#333" stroke-width="0.3"/>
<polygon points="405,329.3 401,328.6 401,330.0" fill="#333" stroke="#333" stroke-width="0.3"/>
<polygon points="405.4,329.3 409.4,328.6 409.4,330.0" fill="#333" stroke="#333" stroke-width="0.3"/>
<polygon points="442,329.3 438,328.6 438,330.0" fill="#333" stroke="#333" stroke-width="0.3"/>
<text x="396.5" y="326.8" font-size="9.6" text-anchor="middle" fill="#333" >12</text>
<text x="423.9" y="326.8" font-size="9.6" text-anchor="middle" fill="#333" >25</text>
<line x1="387.8" y1="359.7" x2="442.2" y2="359.7" stroke="#333" stroke-width="0.8" />
<polygon points="388,359.7 392,359.0 392,360.4" fill="#333" stroke="#333" stroke-width="0.3"/>
<polygon points="442,359.7 438,359.0 438,360.4" fill="#333" stroke="#333" stroke-width="0.3"/>
<text x="415.1" y="357.5" font-size="9.6" text-anchor="middle" fill="#333" >37</text>
<line x1="380.2" y1="329.5" x2="380.2" y2="355" stroke="#333" stroke-width="1.3" />
<line x1="380" y1="338" x2="387.8" y2="338" stroke="#333" stroke-width="0.8" />
<line x1="380" y1="346.6" x2="387.8" y2="346.6" stroke="#333" stroke-width="0.8" />
<text x="378" y="354.6" font-size="9.4" text-anchor="start" fill="#333" transform="rotate(-90 378 354.6)" textLength="25" lengthAdjust="spacing">2−M6</text>
<text x="404" y="372.5" font-size="10.6" text-anchor="start" fill="#444" textLength="26.7" lengthAdjust="spacing">2 pcs</text>
<text x="453.6" y="394" font-size="11" text-anchor="start" fill="#858585" textLength="112.8" lengthAdjust="spacingAndGlyphs">Cool Car Automotive BV</text>
</svg>
</body></html>
